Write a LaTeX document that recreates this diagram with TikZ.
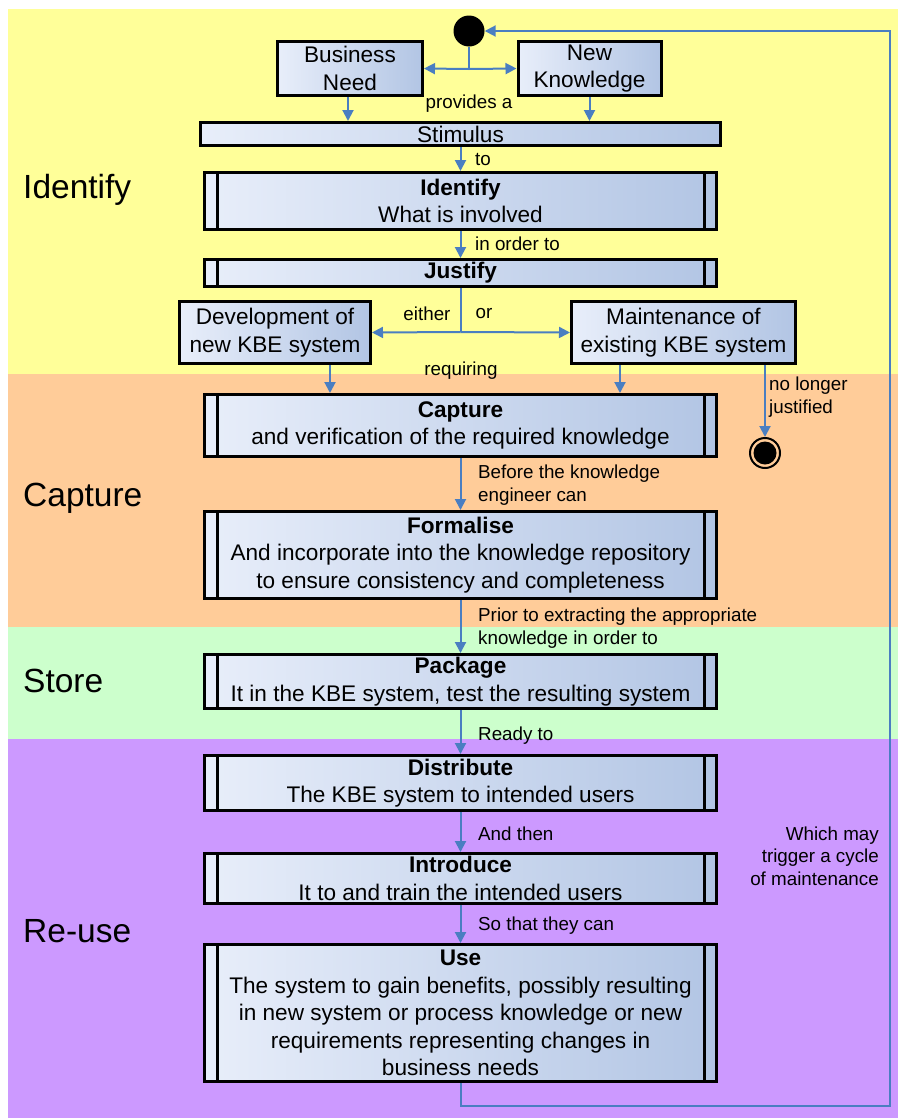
\documentclass[tikz,border=0pt]{standalone}
\usepackage{fontspec}
\setmainfont{Liberation Sans}
\usetikzlibrary{arrows.meta}
\definecolor{bandY}{RGB}{255,255,153}
\definecolor{bandO}{RGB}{255,204,153}
\definecolor{bandG}{RGB}{204,255,204}
\definecolor{bandP}{RGB}{204,153,255}
\definecolor{boxL}{RGB}{232,238,250}
\definecolor{boxR}{RGB}{178,197,228}
\definecolor{flowc}{RGB}{74,126,193}
\newcommand\mainsz{\fontsize{22.6}{27.5}\selectfont}
\newcommand\smallsz{\fontsize{18.8}{22.5}\selectfont}
\newcommand\secsz{\fontsize{33.5}{38}\selectfont}
\begin{document}
\begin{tikzpicture}[x=1pt,y=-1pt,
  box/.style={draw=black, line width=3pt, left color=boxL, right color=boxR,
    inner sep=0pt, align=center, font=\mainsz},
  flow/.style={draw=flowc, line width=2pt, -{Triangle[length=11pt,width=11pt]}},
  plain/.style={draw=flowc, line width=2pt},
  lbl/.style={font=\smallsz, inner sep=0pt, align=left},
  sec/.style={font=\secsz, inner sep=0pt, anchor=west},
  bar/.style={draw=black, line width=3pt}]
\useasboundingbox (0,0) rectangle (898,1119);
% background bands
\fill[white] (0,0) rectangle (898,1119);
\fill[bandY] (8,9) rectangle (898,374);
\fill[bandO] (8,374) rectangle (898,627);
\fill[bandG] (8,627) rectangle (898,739);
\fill[bandP] (8,739) rectangle (898,1118);

% section titles
\node[sec] (sI) at (23,190) {Identify};
\node[sec] (sC) at (23,498) {Capture};
\node[sec] (sS) at (23,681) {Store};
\node[sec] (sR) at (23,931) {Re-use};

% initial and final states
\node[circle, fill=black, minimum size=31pt, inner sep=0pt] (start) at (469,31) {};
\node[circle, draw=black, line width=2pt, minimum size=30pt, inner sep=0pt] (endn) at (765,453) {};
\fill[black] (endn) circle (11.5pt);

% activity boxes
\node[box, minimum width=145pt, minimum height=54pt] (bn) at (350,68.5) {Business\\Need};
\node[box, minimum width=143pt, minimum height=54pt] (nk) at (589.5,68.5) {New\\Knowledge};
\node[box, minimum width=520pt, minimum height=23pt] (stim) at (460.5,134) {Stimulus};
\node[box, minimum width=512pt, minimum height=57pt] (ident) at (460.5,201) {\textbf{Identify}\\What is involved};
\node[box, minimum width=512pt, minimum height=27pt] (just) at (460.5,273) {\textbf{Justify}};
\node[box, minimum width=191pt, minimum height=62pt] (dev) at (275,332.5) {Development of\\new KBE system};
\node[box, minimum width=224pt, minimum height=62pt] (maint) at (683.5,332.5) {Maintenance of\\existing KBE system};
\node[box, minimum width=512pt, minimum height=62pt] (capt) at (460.5,425.5) {\textbf{Capture}\\and verification of the required knowledge};
\node[box, minimum width=512pt, minimum height=87pt] (form) at (460.5,555) {\textbf{Formalise}\\And incorporate into the knowledge repository\\to ensure consistency and completeness};
\node[box, minimum width=512pt, minimum height=54pt] (pack) at (460.5,681.5) {\textbf{Package}\\It in the KBE system, test the resulting system};
\node[box, minimum width=512pt, minimum height=55pt] (dist) at (460.5,783) {\textbf{Distribute}\\The KBE system to intended users};
\node[box, minimum width=512pt, minimum height=50pt] (intro) at (460.5,878.5) {\textbf{Introduce}\\It to and train the intended users};
\node[box, minimum width=512pt, minimum height=137pt] (use) at (460.5,1013) {\textbf{Use}\\The system to gain benefits, possibly resulting\\in new system or process knowledge or new\\requirements representing changes in\\business needs};

% side bars of the composite activities
\foreach \n in {ident,just,capt,form,pack,dist,intro,use}{
  \draw[bar] ([xshift=14pt]\n.north west) -- ([xshift=14pt]\n.south west);
  \draw[bar] ([xshift=-14pt]\n.north east) -- ([xshift=-14pt]\n.south east);
}

% connectors
\coordinate (j1) at (469,69);
\draw[plain] (start.south) -- (j1);
\draw[flow] (j1) -- (bn.east);
\draw[flow] (j1) -- (nk.west);
\draw[flow] ([xshift=-2pt]bn.south) -- ([xshift=-2pt]bn.south |- stim.north);
\draw[flow] (nk.south) -- (nk.south |- stim.north);
\node[lbl, anchor=center] (lprov) at (469,104) {provides a};

\draw[flow] (stim.south) -- (stim.south |- ident.north);
\node[lbl, anchor=west] (lto) at (475,160) {to};
\draw[flow] (ident.south) -- (just.north);
\node[lbl, anchor=west] (lorder) at (475,244) {in order to};

\coordinate (j2) at (460.5,332);
\draw[plain] (just.south) -- (j2);
\draw[flow] (j2) -- (dev.east);
\draw[flow] (j2) -- (maint.west);
\node[lbl, anchor=center] (leither) at (427,314) {either};
\node[lbl, anchor=center] (lor) at (484,314) {or};

\draw[flow] ([xshift=55pt]dev.south) -- ([xshift=55pt]dev.south |- capt.north);
\draw[flow] ([xshift=-63.5pt]maint.south) -- ([xshift=-63.5pt]maint.south |- capt.north);
\node[lbl, anchor=center] (lreq) at (461,371) {requiring};

\draw[flow] (endn.north |- maint.south) -- (endn.north);
\node[lbl, anchor=north west] (lnolonger) at (769,377) {no longer\\justified};

\draw[flow] (capt.south) -- (form.north);
\node[lbl, anchor=north west] (lbefore) at (478,465) {Before the knowledge\\engineer can};
\draw[flow] (form.south) -- (pack.north);
\node[lbl, anchor=north west] (lprior) at (478,608) {Prior to extracting the appropriate\\knowledge in order to};
\draw[flow] (pack.south) -- (dist.north);
\node[lbl, anchor=west] (lready) at (478,736) {Ready to};
\draw[flow] (dist.south) -- (intro.north);
\node[lbl, anchor=west] (lthen) at (478,834) {And then};
\draw[flow] (intro.south) -- (use.north);
\node[lbl, anchor=west] (lso) at (478,926) {So that they can};

% maintenance cycle back to the start
\coordinate (c1) at (460.5,1106);
\coordinate (c2) at (890,1106);
\coordinate (c3) at (890,31);
\draw[flow] (use.south) -- (c1) -- (c2) -- (c3) -- (start.east);
\node[lbl, anchor=east, align=right] (lcycle) at (879,856) {Which may\\trigger a cycle\\of maintenance};
\end{tikzpicture}
\end{document}
